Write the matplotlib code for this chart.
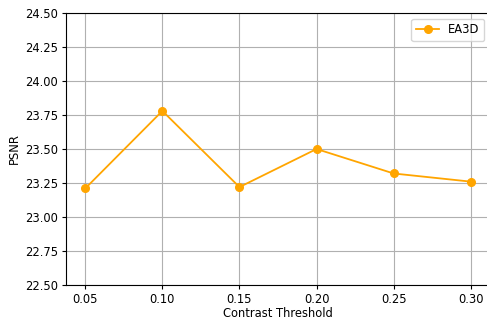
import matplotlib.pyplot as plt

thresholds = [0.05, 0.10, 0.15, 0.20, 0.25, 0.30]
psnr = [23.21, 23.78, 23.22, 23.50, 23.32, 23.26]

fig = plt.figure(figsize=(4.87, 3.2), dpi=100)
ax = fig.add_axes([66 / 487, 1 - 285 / 320, 424 / 487, 272 / 320])

ax.plot(thresholds, psnr, marker='o', color='orange', label='EA3D', markersize=5.5, linewidth=1.3)
ax.set_ylim(22.5, 24.5)
ax.set_yticks([22.5, 22.75, 23.0, 23.25, 23.5, 23.75, 24.0, 24.25, 24.5])
ax.set_yticklabels([f'{v:.2f}' for v in ax.get_yticks()])
ax.set_xticks(thresholds)
ax.set_xticklabels([f'{v:.2f}' for v in thresholds])
ax.tick_params(labelsize=8.3, pad=2.5, length=3)
ax.set_xlabel('Contrast Threshold', fontsize=8.3, labelpad=1)
ax.set_ylabel('PSNR', fontsize=8.3, labelpad=3)
ax.grid(True)
ax.legend(loc='upper right', fontsize=8.3)

fig.savefig('out.png', dpi=100)
